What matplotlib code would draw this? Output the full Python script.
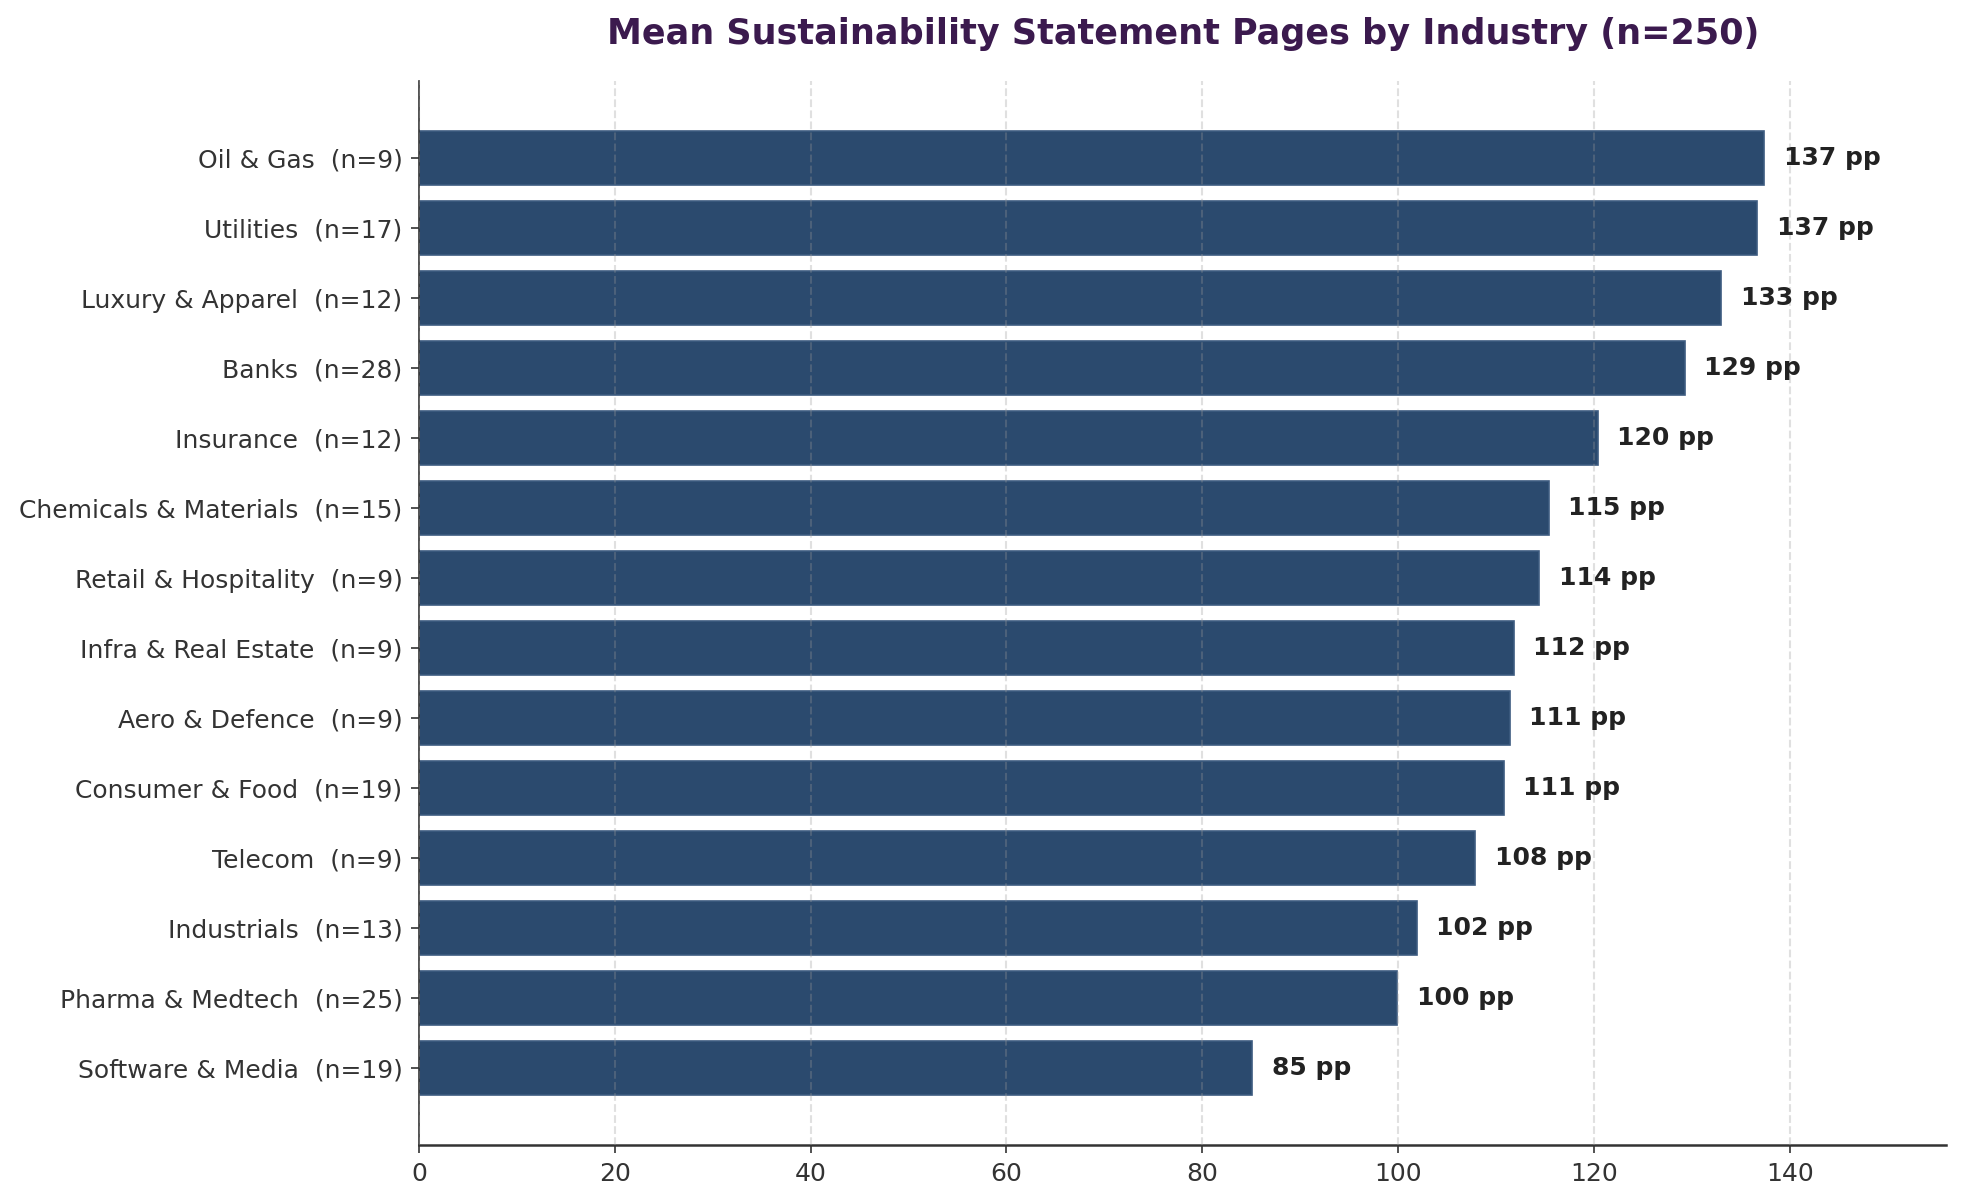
import matplotlib
matplotlib.use("Agg")
import matplotlib.pyplot as plt
import numpy as np

industries = ['Oil & Gas', 'Utilities', 'Luxury & Apparel', 'Banks', 'Insurance',
              'Chemicals & Materials', 'Retail & Hospitality', 'Infra & Real Estate',
              'Aero & Defence', 'Consumer & Food', 'Telecom', 'Industrials',
              'Pharma & Medtech', 'Software & Media']
counts = [9, 17, 12, 28, 12, 15, 9, 9, 9, 19, 9, 13, 25, 19]
mean_pages = [137.4, 136.7, 133.0, 129.3, 120.4, 115.4, 114.4, 111.8,
              111.4, 110.8, 107.9, 101.9, 99.9, 85.1]

bar_color = '#2b4a6e'
title_color = '#3b1a4e'

fig, ax = plt.subplots(figsize=(1962 / 150, 1204 / 150), dpi=150)
fig.subplots_adjust(left=0.2136, right=0.992, top=0.9327, bottom=0.049)

y = np.arange(len(industries))
labels = [f"{name}  (n={n})" for name, n in zip(industries, counts)]
ax.barh(y, mean_pages, height=0.78, color=bar_color, edgecolor='#3d5b80',
        linewidth=0.8, zorder=1)

for yi, v in zip(y, mean_pages):
    ax.text(v + 2, yi, f"{v:.0f} pp", ha='left', va='center',
            fontsize=12, fontweight='bold', color='#222222', zorder=3)

ax.set_yticks(y)
ax.set_yticklabels(labels)
ax.set_ylim(len(industries) - 1 + 1.1, -1.1)
ax.set_xlim(0, 156)
ax.set_xticks(np.arange(0, 141, 20))

ax.grid(axis='x', linestyle='--', color='#999999', alpha=0.3, linewidth=1, zorder=2)
ax.set_axisbelow(False)
for sp in ['top', 'right']:
    ax.spines[sp].set_visible(False)
ax.spines['left'].set_color('#333333')
ax.spines['bottom'].set_color('#333333')
ax.spines['bottom'].set_linewidth(1.2)
ax.tick_params(axis='both', labelsize=12, colors='#333333', length=4, pad=4)

ax.set_title('Mean Sustainability Statement Pages by Industry (n=250)',
             fontsize=16.8, fontweight='bold', color=title_color, pad=18)

fig.savefig('out.png', dpi=150)
